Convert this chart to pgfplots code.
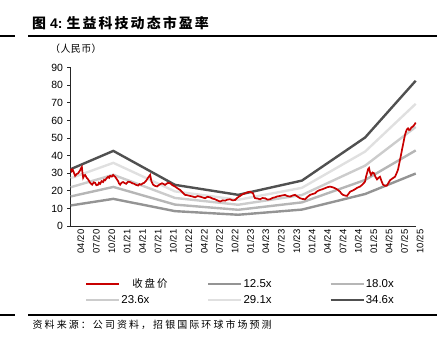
\documentclass[border=0pt]{standalone}
\usepackage{fontspec}
\setmainfont{Liberation Sans}
\newfontfamily\cjk{Noto Sans CJK SC}
\usepackage{pgfplots}
\pgfplotsset{compat=1.18}
\definecolor{pricered}{RGB}{200,0,0}
\definecolor{cA}{RGB}{148,148,148}
\definecolor{cB}{RGB}{182,182,182}
\definecolor{cC}{RGB}{204,204,204}
\definecolor{cD}{RGB}{224,224,224}
\definecolor{cE}{RGB}{80,80,80}
\begin{document}
\begin{tikzpicture}[x=1bp,y=1bp]
\useasboundingbox (0,0) rectangle (448,357);
% title
\node[anchor=west,inner sep=0pt] at (32,334) {{\cjk\bfseries\fontsize{14}{16}\selectfont\addfontfeature{LetterSpace=10}图}\hspace{4bp}{\bfseries\fontsize{14}{16}\selectfont 4:}\hspace{4bp}{\cjk\bfseries\fontsize{14}{16}\selectfont\addfontfeature{LetterSpace=15}生益科技动态市盈率}};
\draw[line width=1.4bp] (0,321) -- (15,321);
\draw[line width=1.4bp] (28,321) -- (437,321);
\node[anchor=west,inner sep=0pt] at (50,308) {\cjk\fontsize{10}{12}\selectfont\addfontfeature{LetterSpace=4}（人民币）};
\draw[line width=1.4bp] (0,42) -- (15,42);
\draw[line width=1.4bp] (28,42) -- (437,42);
\node[anchor=west,inner sep=0pt] at (32.5,32) {\cjk\fontsize{10}{12}\selectfont\addfontfeature{LetterSpace=21}资料来源：公司资料，招银国际环球市场预测};
\begin{axis}[
  at={(70.7bp,131bp)}, anchor=south west,
  scale only axis, width=345bp, height=158.3bp,
  xmin=-1, xmax=66.15, ymin=0, ymax=90,
  axis lines*=left,
  axis line style={line width=0.9bp, color=black!85},
  /pgf/number format/assume math mode=true,
  ytick={0,10,...,90},
  tick align=outside, major tick length=3.5bp,
  ytick style={line width=0.8bp, color=black!85},
  yticklabel style={font=\fontsize{10.5}{12}\selectfont, inner sep=0pt, xshift=-4bp},
  xtick={0,3,...,66},
  xticklabels={04/20,07/20,10/20,01/21,04/21,07/21,10/21,01/22,04/22,07/22,10/22,01/23,04/23,07/23,10/23,01/24,04/24,07/24,10/24,01/25,04/25,07/25,10/25},
  xtick style={draw=none},
  xticklabel style={font=\fontsize{9.5}{11}\selectfont, rotate=90, anchor=east, inner sep=0pt, yshift=-5bp},
  clip=false,
  legend image code/.code={\draw[#1] (0bp,0bp) -- (33bp,0bp);},
  legend columns=3,
  legend style={draw=none, fill=none, at={(0.0414,-0.325)}, anchor=north west,
    inner sep=0pt, column sep=0pt, row sep=4.5bp,
    font=\fontsize{11.5}{13}\selectfont, nodes={inner sep=1bp}},
]
\addlegendimage{pricered, line width=1.6bp}
\addlegendentry{\makebox[85bp][l]{\hspace{11bp}{\cjk\fontsize{10.5}{12}\selectfont\addfontfeature{LetterSpace=18}收盘价}}}
\addlegendimage{cA, line width=2.2bp}
\addlegendentry{\makebox[85bp][l]{12.5x}}
\addlegendimage{cB, line width=2.2bp}
\addlegendentry{\makebox[85bp][l]{18.0x}}
\addlegendimage{cC, line width=2.2bp}
\addlegendentry{\makebox[85bp][l]{23.6x}}
\addlegendimage{cD, line width=2.2bp}
\addlegendentry{\makebox[85bp][l]{29.1x}}
\addlegendimage{cE, line width=2.2bp}
\addlegendentry{\makebox[85bp][l]{34.6x}}

\addplot[cA, line width=2.4bp, forget plot] coordinates {(-1,11.68) (7.3,15.43) (19.3,8.45) (31.6,6.40) (44,9.33) (56.3,18.18) (66.15,29.84)};
\addplot[cB, line width=2.4bp, forget plot] coordinates {(-1,16.81) (7.3,22.21) (19.3,12.17) (31.6,9.22) (44,13.43) (56.3,26.17) (66.15,42.97)};
\addplot[cC, line width=2.4bp, forget plot] coordinates {(-1,22.04) (7.3,29.12) (19.3,15.95) (31.6,12.08) (44,17.61) (56.3,34.31) (66.15,56.33)};
\addplot[cD, line width=2.4bp, forget plot] coordinates {(-1,27.18) (7.3,35.91) (19.3,19.67) (31.6,14.90) (44,21.71) (56.3,42.31) (66.15,69.46)};
\addplot[cE, line width=2.4bp, forget plot] coordinates {(-1,32.32) (7.3,42.70) (19.3,23.39) (31.6,17.72) (44,25.81) (56.3,50.31) (66.15,82.59)};
\addplot[pricered, line width=1.7bp, forget plot] coordinates {
(-0.97,32.5) (-0.8,31.2) (-0.6,32) (-0.4,30.5) (-0.14,28.5) (0.15,29.5) (0.45,30) (0.8,31.5) (1.0,32.8) (1.17,33.5) (1.3,30) (1.42,27.5) (1.6,28.6) (1.81,29) (2.1,27.5) (2.39,26.5) (2.8,24.5) (3.17,23.5) (3.5,24.8) (3.76,24.5) (4.0,23.2) (4.34,23.5) (4.5,24.6) (4.73,24) (5.0,25.5) (5.31,25) (5.5,26.3) (5.70,26) (6.0,27.2) (6.28,28) (6.5,27.4) (6.67,28.5) (7.0,28.1) (7.26,29) (7.5,28.3) (7.65,28) (8.0,26.5) (8.23,25.5) (8.4,24.2) (8.62,23.5) (8.9,24.6) (9.20,25) (9.5,24.4) (9.79,24) (10.2,25.2) (10.56,25) (11.0,24.3) (11.34,24) (11.7,23.4) (12.12,23) (12.4,23.8) (12.70,23.5) (13.0,24.2) (13.29,24.5) (13.7,25.8) (14.07,27.5) (14.3,28.4) (14.46,29) (14.7,25.5) (15.04,23.5) (15.4,22.8) (15.82,22.5) (16.3,23.6) (16.79,24.3) (17.1,23.8) (17.37,23.4) (17.9,24.5) (18.35,24.3) (18.8,23.2) (19.33,22.4) (19.8,21.4) (20.29,20.5) (20.8,19.0) (21.26,17.7) (21.7,17.5) (22.24,17.1) (22.7,16.8) (23.21,16.3) (23.7,17.0) (24.18,16.7) (24.7,16.2) (25.16,15.8) (25.6,16.6) (26.13,16.3) (26.6,15.6) (27.10,15.2) (27.6,14.5) (28.08,13.9) (28.6,14.6) (29.05,14.4) (29.5,15.0) (30.02,15.2) (30.5,14.6) (31.0,14.8) (31.5,16.2) (31.97,17.1) (32.4,18.0) (32.94,18.6) (33.4,19.2) (33.91,19.5) (34.2,19.0) (34.5,18.6) (34.7,16.8) (34.88,15.8) (35.4,15.6) (35.86,15.2) (36.3,15.9) (36.83,15.8) (37.3,15.0) (37.8,15.2) (38.3,16.0) (38.77,16.3) (39.2,16.8) (39.75,17.1) (40.2,17.4) (40.72,17.7) (41.2,17.0) (41.69,16.7) (42.2,17.4) (42.67,17.7) (43.1,16.8) (43.64,15.8) (44.1,15.4) (44.61,15.2) (45.1,16.6) (45.58,17.7) (46.1,18.2) (46.56,18.6) (47.0,19.8) (47.53,20.5) (48.0,20.9) (48.5,21.5) (49.0,22.1) (49.47,22.4) (50.0,22.0) (50.45,21.5) (51.0,20.5) (51.42,19.5) (51.7,18.4) (52.0,17.7) (52.4,17.3) (52.78,17.1) (53.1,18.4) (53.37,19.5) (53.9,20.2) (54.34,20.9) (54.8,21.8) (55.31,22.4) (55.8,23.6) (56.28,25.2) (56.5,28.2) (56.67,30) (56.9,32.5) (57.06,33) (57.25,30.6) (57.45,29) (57.75,30.4) (58.04,30) (58.3,28.0) (58.62,26.5) (58.9,27.4) (59.2,28) (59.5,25.5) (59.79,23.5) (60.2,22.8) (60.56,23) (60.9,24.8) (61.15,26) (61.6,27.0) (62.12,28) (62.4,29.8) (62.7,32) (62.9,34.8) (63.09,37.6) (63.3,40.6) (63.48,43.3) (63.7,46.5) (63.87,49) (64.05,51.6) (64.26,53.7) (64.45,55.0) (64.65,55.5) (64.85,54.6) (65.04,54.7) (65.3,56.0) (65.62,56.6) (65.9,57.6) (66.15,58.8)};
\end{axis}
\end{tikzpicture}
\end{document}
